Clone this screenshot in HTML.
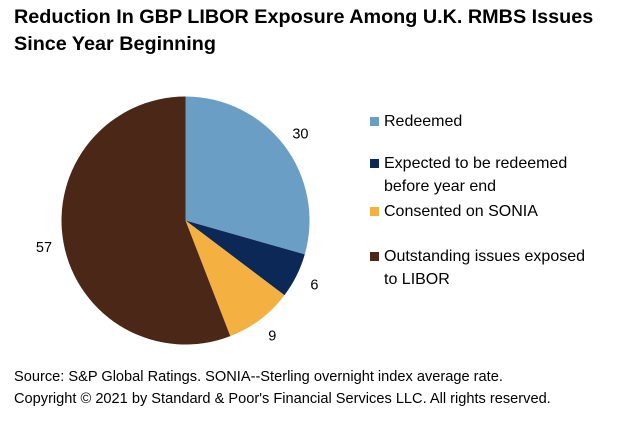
<!DOCTYPE html>
<html><head><meta charset="utf-8"><style>
body{margin:0;background:#fff;font-family:"Liberation Sans",Arial,sans-serif;}
#c{position:relative;width:618px;height:422px;overflow:hidden;}
.t{position:absolute;left:14px;top:4px;font-size:19.8px;font-weight:bold;line-height:27px;color:#000;white-space:nowrap;}
.f{position:absolute;left:14px;font-size:14.6px;color:#000;white-space:nowrap;}
.lg{position:absolute;left:370px;font-size:16px;line-height:23px;color:#000;white-space:nowrap;}
.sw{position:absolute;left:0;width:9px;height:9px;top:7px;}
.lt{margin-left:14px;}
</style></head><body>
<div id="c">
<div class="t">Reduction In GBP LIBOR Exposure Among U.K. RMBS Issues<br>Since Year Beginning</div>
<svg id="pie" width="618" height="422" style="position:absolute;left:0;top:0"></svg>
<div class="lg" style="top:110px"><span class="sw" style="background:#6a9ec5"></span><div class="lt">Redeemed</div></div>
<div class="lg" style="top:152px"><span class="sw" style="background:#0c2856"></span><div class="lt">Expected to be redeemed<br>before year end</div></div>
<div class="lg" style="top:200px"><span class="sw" style="background:#f4b141"></span><div class="lt">Consented on SONIA</div></div>
<div class="lg" style="top:245px"><span class="sw" style="background:#4b2718"></span><div class="lt">Outstanding issues exposed<br>to LIBOR</div></div>
<div class="f" style="top:369px">Source: S&amp;P Global Ratings. SONIA--Sterling overnight index average rate.</div>
<div class="f" style="top:391px">Copyright © 2021 by Standard &amp; Poor's Financial Services LLC. All rights reserved.</div>
</div>
<script>
const categories=["Redeemed","Expected to be redeemed before year end","Consented on SONIA","Outstanding issues exposed to LIBOR"];
const values=[30,6,9,57];
const colors=["#6a9ec5","#0c2856","#f4b141","#4b2718"];
const svg=document.getElementById('pie');
const NS="http://www.w3.org/2000/svg";
const cx=185.5,cy=220.5,r=124;
const total=values.reduce((a,b)=>a+b,0);
let a0=0;
values.forEach((v,i)=>{
  const a1=a0+v/total*2*Math.PI;
  const x0=cx+r*Math.sin(a0),y0=cy-r*Math.cos(a0);
  const x1=cx+r*Math.sin(a1),y1=cy-r*Math.cos(a1);
  const p=document.createElementNS(NS,'path');
  p.setAttribute('d',`M${cx},${cy}L${x0},${y0}A${r},${r} 0 ${a1-a0>Math.PI?1:0} 1 ${x1},${y1}Z`);
  p.setAttribute('fill',colors[i]);
  
  
  svg.appendChild(p);
  const m=(a0+a1)/2,lr=r+20;
  const t=document.createElementNS(NS,'text');
  t.setAttribute('x',cx+lr*Math.sin(m));
  t.setAttribute('y',cy-lr*Math.cos(m)+5);
  t.setAttribute('text-anchor','middle');
  t.setAttribute('font-size','14.5');
  t.setAttribute('font-family','Liberation Sans, Arial, sans-serif');
  t.textContent=v;
  
  
  svg.appendChild(t);
  a0=a1;
});
</script>
</body></html>
